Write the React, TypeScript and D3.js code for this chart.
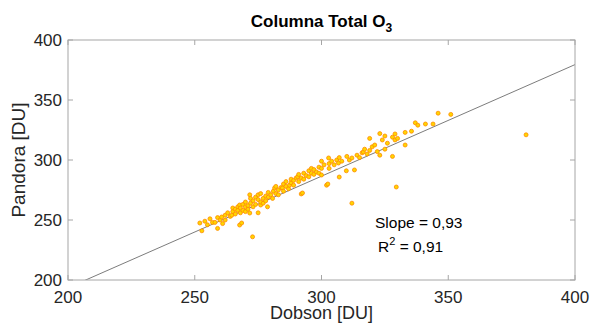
import React from 'react'
import * as d3 from 'd3'

// Dobson vs Pandora total ozone columns [DU]
const dobson = [
  252, 252.8, 254, 255, 256, 257, 258, 259, 259, 260, 260.6, 261, 262, 262, 263, 264, 264.6, 265, 265, 266,
  266, 267, 267, 267.7, 267.7, 268, 268.5, 268, 269, 269, 270, 270, 270, 271, 271, 271.7, 271.7, 272, 272, 272.8,
  273, 273, 274, 274, 275, 275, 275, 276, 276, 276, 277, 277, 278, 278, 278.7, 279, 279, 280, 280.7, 281,
  281.5, 282, 282, 283, 283, 284, 284.6, 285, 285, 286, 286, 287, 287.4, 288, 288, 289, 289, 290, 290.6, 291,
  291, 292, 292.5, 292, 293, 293, 294, 295, 295, 296, 296, 297, 297, 298, 299, 299, 300, 300, 300, 301,
  302, 302.5, 302.8, 303, 303, 304, 305, 306, 306.7, 307, 307, 308, 309.8, 310, 311, 312, 312, 313, 314, 315,
  316, 316.5, 317, 318, 319, 319, 320, 321, 322, 323, 323, 324, 325, 325, 326, 328, 328, 329, 329, 329.5,
  330, 333, 333, 335.5, 337, 338, 341, 344, 346, 351, 380.7
]
const pandora = [
  247.5, 241, 249, 246, 251, 248, 248, 243, 252, 250, 252.5, 247, 254, 250, 256, 253, 254, 260, 257, 255,
  259, 261, 258, 245.8, 262.5, 256, 247.5, 260, 263, 258, 261, 265, 257, 262, 259, 271, 255.8, 264, 268, 236,
  261, 266, 269, 263, 256, 267, 271, 262.5, 265, 272, 268, 264, 270, 266, 261, 273, 269, 271, 268, 274,
  276.7, 272, 278, 275, 271, 277, 276.7, 280, 274, 278, 282, 276, 279, 281, 284, 279, 283, 285, 286, 282,
  288, 271.7, 272.5, 285, 289, 284, 287, 291, 286, 289, 293, 288, 292, 290, 294, 289, 287.5, 293, 299, 296,
  279, 280, 301.7, 297, 293, 299, 296, 300, 297.5, 285.8, 302, 299, 291, 303, 300, 264, 301.7, 291.7, 304, 302,
  306, 306.7, 309, 305, 308, 318, 311, 312.5, 307, 304, 322, 316.7, 309, 320, 314, 303, 319, 321.7, 316.7, 277.5,
  318, 312.5, 323, 324, 331, 329, 330, 330, 339, 338, 321
]

const xTicks = [200, 250, 300, 350, 400]
const yTicks = [200, 250, 300, 350, 400]
const slope = 0.93
const intercept = 7.5

const W = 591
const H = 324
const m = { left: 68, right: 16, top: 40, bottom: 44 }

export default function App() {
  const x = d3.scaleLinear().domain([200, 400]).range([m.left, W - m.right])
  const y = d3.scaleLinear().domain([200, 400]).range([H - m.bottom, m.top])
  const fitLine = d3.line<number>()
    .x(d => x(d))
    .y(d => y(slope * d + intercept))
  const font = 'Arial, "Liberation Sans", Helvetica, sans-serif'
  const axisCol = '#a6a6a6'
  const txtCol = '#262626'
  const tl = 5

  return (
    <svg width={W} height={H} style={{ position: 'absolute', left: 0, top: 0, background: '#fff' }} fontFamily={font}>
      <defs>
        <clipPath id="plot">
          <rect x={x(200)} y={y(400)} width={x(400) - x(200)} height={y(200) - y(400)} />
        </clipPath>
      </defs>
      <rect x={x(200)} y={y(400)} width={x(400) - x(200)} height={y(200) - y(400)} fill="#fff" />

      <path d={fitLine([200, 400]) || ''} stroke="#5a5a5a" strokeWidth={0.8} fill="none" clipPath="url(#plot)" />

      <g clipPath="url(#plot)">
        {dobson.map((d, i) => (
          <circle key={i} cx={x(d)} cy={y(pandora[i])} r={2} fill="#ffd500" stroke="#ff8a00" strokeWidth={0.8} />
        ))}
      </g>

      {/* box and ticks */}
      <rect x={x(200)} y={y(400)} width={x(400) - x(200)} height={y(200) - y(400)} fill="none" stroke={axisCol} strokeWidth={1} />
      {xTicks.map(t => (
        <g key={'x' + t}>
          <line x1={x(t)} x2={x(t)} y1={y(200)} y2={y(200) - tl} stroke={axisCol} />
          <line x1={x(t)} x2={x(t)} y1={y(400)} y2={y(400) + tl} stroke={axisCol} />
          <text x={x(t)} y={y(200) + 23} textAnchor="middle" fontSize={17} fill={txtCol}>{t}</text>
        </g>
      ))}
      {yTicks.map(t => (
        <g key={'y' + t}>
          <line x1={x(200)} x2={x(200) + tl} y1={y(t)} y2={y(t)} stroke={axisCol} />
          <line x1={x(400)} x2={x(400) - tl} y1={y(t)} y2={y(t)} stroke={axisCol} />
          <text x={x(200) - 6} y={y(t) + 6} textAnchor="end" fontSize={17} fill={txtCol}>{t}</text>
        </g>
      ))}

      <text x={(x(200) + x(400)) / 2} y={27} textAnchor="middle" fontSize={17} fontWeight="bold" fill="#000">
        Columna Total O<tspan fontSize={12} dy={5}>3</tspan>
      </text>
      <text x={(x(200) + x(400)) / 2} y={319} textAnchor="middle" fontSize={18} fill={txtCol}>Dobson [DU]</text>
      <text transform={`translate(25,${(y(200) + y(400)) / 2}) rotate(-90)`} textAnchor="middle" fontSize={19} fill={txtCol}>Pandora [DU]</text>

      <text x={375} y={228} fontSize={15.5} fill="#000">Slope = 0,93</text>
      <text x={378} y={252} fontSize={15.5} fill="#000">
        R<tspan fontSize={11} dy={-7}>2</tspan><tspan dy={7}> = 0,91</tspan>
      </text>
    </svg>
  )
}
